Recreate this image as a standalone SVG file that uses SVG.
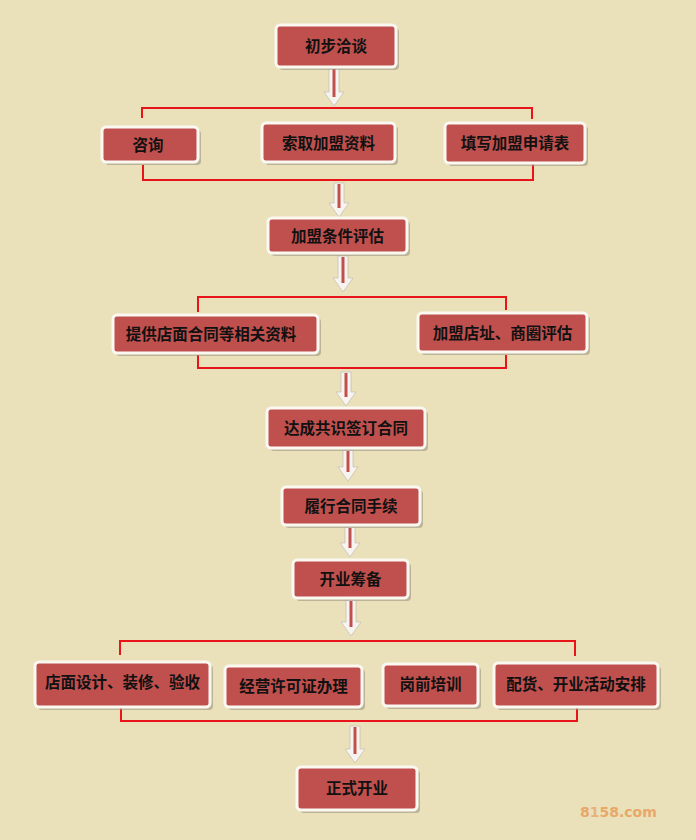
<svg xmlns="http://www.w3.org/2000/svg" width="696" height="840" viewBox="0 0 696 840">
<style>
.bg{fill:#EAE0B9}
.sh{fill:#9d9684;opacity:.6}
.box{fill:#C0504D;stroke:#FBF8F2;stroke-width:3}
.t{font-family:"Noto Sans CJK SC","Noto Sans",sans-serif;font-weight:bold;font-size:15.5px;fill:#111;text-anchor:middle}
.br{fill:none;stroke:#E8141A;stroke-width:2}
.ar{fill:#F7F3EE;stroke:#C8C1B5;stroke-width:0.8}
.ai{stroke:#C0504D;stroke-width:3}
.wm{font-family:"DejaVu Sans","Liberation Sans",sans-serif;font-weight:bold;font-size:14px;fill:#E8A86A}
</style>
<rect class="bg" x="0" y="0" width="696" height="840"/>

<g id="connectors">
  <path class="br" d="M142,118 V108 H532 V119"/>
  <path class="br" d="M143,165 V180 H533 V163"/>
  <path class="br" d="M198,312 V297 H506 V310"/>
  <path class="br" d="M198,355 V368 H506 V355"/>
  <path class="br" d="M120,655 V641 H575 V656"/>
  <path class="br" d="M121,708 V721 H577 V707"/>

  <path class="ar" d="M329,68 H339 V92 H344 L334,106 L324,92 H329 Z"/><line class="ai" x1="334" y1="69" x2="334" y2="97"/>
  <path class="ar" d="M334,183 H344 V203 H349 L339,217 L329,203 H334 Z"/><line class="ai" x1="339" y1="184" x2="339" y2="208"/>
  <path class="ar" d="M338,256 H348 V278 H353 L343,292 L333,278 H338 Z"/><line class="ai" x1="343" y1="257" x2="343" y2="283"/>
  <path class="ar" d="M341,372 H351 V392 H356 L346,406 L336,392 H341 Z"/><line class="ai" x1="346" y1="373" x2="346" y2="397"/>
  <path class="ar" d="M343,450 H353 V467 H358 L348,481 L338,467 H343 Z"/><line class="ai" x1="348" y1="451" x2="348" y2="472"/>
  <path class="ar" d="M345,527 H355 V543 H360 L350,557 L340,543 H345 Z"/><line class="ai" x1="350" y1="528" x2="350" y2="548"/>
  <path class="ar" d="M346,600 H356 V622 H361 L351,636 L341,622 H346 Z"/><line class="ai" x1="351" y1="601" x2="351" y2="627"/>
  <path class="ar" d="M350,726 H360 V749 H365 L355,763 L345,749 H350 Z"/><line class="ai" x1="355" y1="727" x2="355" y2="754"/>
</g>

<g id="n1"><rect class="sh" x="279" y="28" width="120" height="42" rx="4"/><rect class="box" x="276" y="25" width="120" height="42" rx="4"/><text class="t" x="336" y="51.5">初步洽谈</text></g>
<g id="n2"><rect class="sh" x="105" y="130" width="96" height="35" rx="4"/><rect class="box" x="102" y="127" width="96" height="35" rx="4"/><text class="t" x="148" y="150.5">咨询</text></g>
<g id="n3"><rect class="sh" x="265" y="126" width="133" height="39" rx="4"/><rect class="box" x="262" y="123" width="133" height="39" rx="4"/><text class="t" x="328.5" y="148.5">索取加盟资料</text></g>
<g id="n4"><rect class="sh" x="448" y="126" width="140" height="40" rx="4"/><rect class="box" x="445" y="123" width="140" height="40" rx="4"/><text class="t" x="515" y="148.5">填写加盟申请表</text></g>
<g id="n5"><rect class="sh" x="271" y="221" width="139" height="35" rx="4"/><rect class="box" x="268" y="218" width="139" height="35" rx="4"/><text class="t" x="337.5" y="241.5">加盟条件评估</text></g>
<g id="n6"><rect class="sh" x="116" y="318" width="205" height="38" rx="4"/><rect class="box" x="113" y="315" width="205" height="38" rx="4"/><text class="t" x="211" y="339.5">提供店面合同等相关资料</text></g>
<g id="n7"><rect class="sh" x="421" y="316" width="169" height="39" rx="4"/><rect class="box" x="418" y="313" width="169" height="39" rx="4"/><text class="t" x="502.5" y="338.5">加盟店址、商圈评估</text></g>
<g id="n8"><rect class="sh" x="270" y="411" width="158" height="40" rx="4"/><rect class="box" x="267" y="408" width="158" height="40" rx="4"/><text class="t" x="346" y="433.5">达成共识签订合同</text></g>
<g id="n9"><rect class="sh" x="285" y="490" width="138" height="38" rx="4"/><rect class="box" x="282" y="487" width="138" height="38" rx="4"/><text class="t" x="351" y="511.5">履行合同手续</text></g>
<g id="n10"><rect class="sh" x="296" y="563" width="115" height="38" rx="4"/><rect class="box" x="293" y="560" width="115" height="38" rx="4"/><text class="t" x="350.5" y="584.5">开业筹备</text></g>
<g id="n11"><rect class="sh" x="38" y="665" width="175" height="45" rx="4"/><rect class="box" x="35" y="662" width="175" height="45" rx="4"/><text class="t" x="122.5" y="688">店面设计、装修、验收</text></g>
<g id="n12"><rect class="sh" x="228" y="669" width="137" height="41" rx="4"/><rect class="box" x="225" y="666" width="137" height="41" rx="4"/><text class="t" x="293.5" y="692">经营许可证办理</text></g>
<g id="n13"><rect class="sh" x="386" y="667" width="95" height="42" rx="4"/><rect class="box" x="383" y="664" width="95" height="42" rx="4"/><text class="t" x="430.5" y="689.5">岗前培训</text></g>
<g id="n14"><rect class="sh" x="497" y="666" width="164" height="44" rx="4"/><rect class="box" x="494" y="663" width="164" height="44" rx="4"/><text class="t" x="576" y="689.5">配货、开业活动安排</text></g>
<g id="n15"><rect class="sh" x="300" y="770" width="120" height="43" rx="4"/><rect class="box" x="297" y="767" width="120" height="43" rx="4"/><text class="t" x="357" y="793.5">正式开业</text></g>

<text class="wm" x="580" y="817">8<tspan fill="#E9B27A">1</tspan>58.com</text>
</svg>
